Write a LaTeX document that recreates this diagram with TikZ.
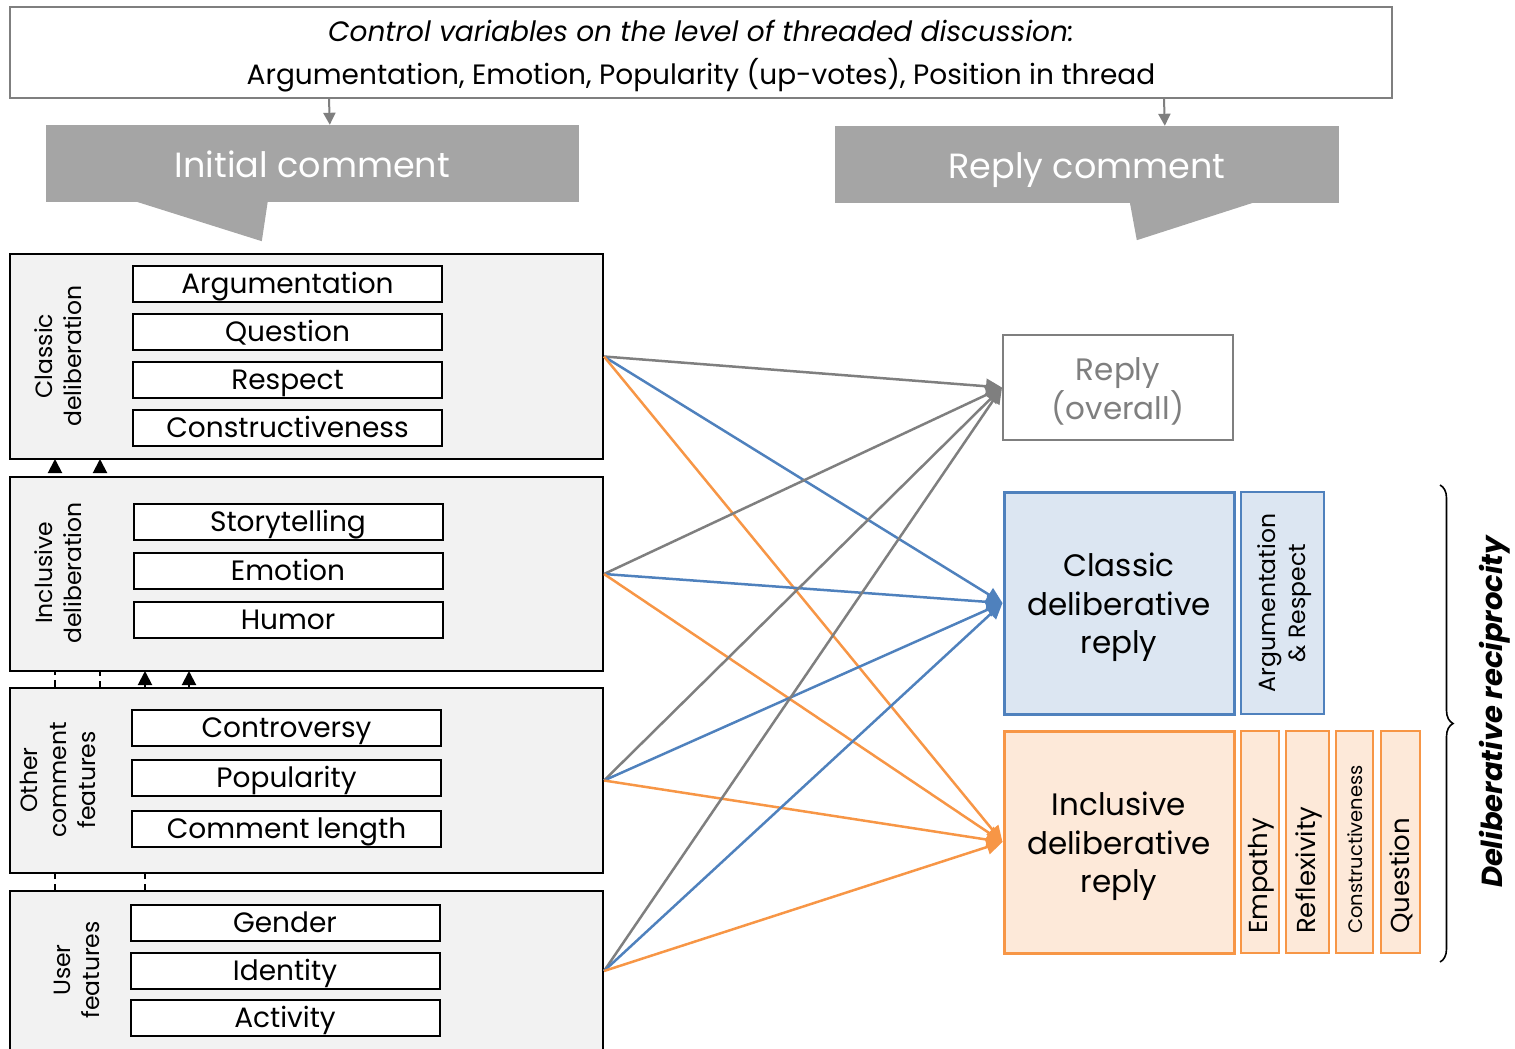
\documentclass[tikz,border=0pt]{standalone}
\usepackage{fontspec}
\setmainfont{Poppins}
\usetikzlibrary{arrows.meta,decorations.pathreplacing,calc}

\definecolor{linegray}{HTML}{7F7F7F}
\definecolor{calloutgray}{HTML}{A5A5A5}
\definecolor{panelgray}{HTML}{F2F2F2}
\definecolor{cblue}{HTML}{4F81BD}
\definecolor{cbluefill}{HTML}{DCE6F2}
\definecolor{corange}{HTML}{F79646}
\definecolor{corangefill}{HTML}{FDE9D9}

\tikzset{
  ctrlbox/.style={draw=linegray, line width=2pt, fill=white, inner sep=0pt},
  ctrltext/.style={inner sep=0pt, align=center, font=\fontsize{28}{43}\selectfont},
  callout/.style={fill=calloutgray, inner sep=0pt, text=white,
    text height=27.5pt, text depth=0pt, font=\fontsize{35}{40}\selectfont},
  ctrlarrow/.style={draw=linegray, line width=2pt,
    -{Triangle[length=12pt,width=12pt]}},
  group/.style={draw=black, line width=2pt, fill=panelgray, inner sep=0pt,
    minimum width=593pt},
  grouplabel/.style={rotate=90, align=center, inner sep=0pt,
    font=\fontsize{23.5}{29}\selectfont},
  item/.style={draw=black, line width=2pt, fill=white, inner sep=0pt,
    minimum width=309pt, minimum height=36pt, text height=20pt, text depth=1pt,
    font=\fontsize{28}{30}\selectfont},
  deparrow/.style={draw=black, line width=2pt, dash pattern=on 7pt off 5pt,
    -{Triangle[length=14pt,width=14pt]}},
  outbox/.style={inner sep=0pt, minimum width=230pt},
  outtext/.style={inner sep=0pt, align=center, font=\fontsize{31}{38.5}\selectfont},
  sidebox/.style={inner sep=0pt, minimum height=222pt},
  sidetext/.style={rotate=90, anchor=west, inner sep=0pt, align=center},
  conn/.style={line width=2.5pt, -{Triangle[length=16pt,width=15pt]}},
}

\begin{document}
\begin{tikzpicture}[x=1pt,y=-1pt]
\useasboundingbox (0,0) rectangle (1515,1049);
\clip (0,0) rectangle (1515,1049);

% control variables on top
\node[ctrlbox, minimum width=1382pt, minimum height=91pt] (ctrl) at (701,52.5) {};
\node[ctrltext] (ctrlt) at ($(ctrl.center)+(0,4)$)
  {\textit{Control variables on the level of threaded discussion:}\\
   Argumentation, Emotion, Popularity (up-votes), Position in thread};

% speech-bubble headers
\node[callout, minimum width=533pt, minimum height=77pt] (ini) at (312.5,163.5) {Initial comment};
\fill[calloutgray] ($(ini.south west)+(89,-1)$) -- ++(127,40) -- ++(6,-40) -- cycle;
\node[callout, minimum width=504pt, minimum height=77pt] (rpl) at (1087,164.5) {Reply comment};
\fill[calloutgray] ($(rpl.south west)+(295,-1)$) -- ++(7,38) -- ++(118,-38) -- cycle;

\draw[ctrlarrow] ($(ctrl.south west)+(320,0)$) -- ($(ini.north west)+(284,0)$);
\draw[ctrlarrow] ($(ctrl.south west)+(1155,0)$) -- ($(rpl.north west)+(330,0)$);

% centres and edges of the feature groups
\path (306.5,356.5) coordinate (clsc) (306.5,574) coordinate (incc)
      (306.5,780.5) coordinate (othc) (306.5,971) coordinate (usrc);
\path (10,459) coordinate (clsb) (10,671) coordinate (incb)
      (10,688) coordinate (otht) (10,891) coordinate (usrt);

% dashed dependencies between the feature groups
\draw[deparrow] ($(usrt)+(45,0)$) -- ($(clsb)+(45,0)$);
\draw[deparrow] ($(otht)+(90,0)$) -- ($(clsb)+(90,0)$);
\draw[deparrow] ($(usrt)+(135,0)$) -- ($(incb)+(135,0)$);
\draw[deparrow] ($(otht)+(179,0)$) -- ($(incb)+(179,0)$);

\node[group, minimum height=205pt] (cls) at (clsc) {};
\node[group, minimum height=194pt] (inc) at (incc) {};
\node[group, minimum height=185pt] (oth) at (othc) {};
\node[group, minimum height=160pt] (usr) at (usrc) {};

\node[grouplabel] (clsl) at (58,356) {Classic\\deliberation};
\node[grouplabel] (incl) at (58,573) {Inclusive\\deliberation};
\node[grouplabel] (othl) at (58,780) {Other\\comment\\features};
\node[grouplabel] (usrl) at (77,970) {User\\features};

% variables inside each group
\node[item] (arg) at (287.5,284) {Argumentation};
\node[item] (que) at (287.5,332) {Question};
\node[item] (res) at (287.5,379.5) {Respect};
\node[item] (con) at (287.5,427.5) {Constructiveness};

\node[item] (sto) at (288,522) {Storytelling};
\node[item] (emo) at (288,571) {Emotion};
\node[item] (hum) at (288,620) {Humor};

\node[item] (ctv) at (286.5,727.5) {Controversy};
\node[item] (pop) at (286.5,777.5) {Popularity};
\node[item] (len) at (286.5,828.5) {Comment length};

\node[item] (gen) at (285,922.5) {Gender};
\node[item] (ide) at (285,971) {Identity};
\node[item] (act) at (285,1018) {Activity};

% outcome boxes
\node[outbox, draw=linegray, line width=2pt, minimum height=105pt] (rep) at (1118,387.5) {};
\node[outtext, text=linegray] (rept) at ($(rep.center)+(0,4)$) {Reply\\(overall)};
\node[outbox, draw=cblue, line width=3pt, fill=cbluefill, minimum height=222pt]
  (crep) at (1119,603) {};
\node[outtext] (crept) at ($(crep.center)+(0,4.5)$) {Classic\\deliberative\\reply};
\node[outbox, draw=corange, line width=3pt, fill=corangefill, minimum height=222pt]
  (irep) at (1119,842) {};
\node[outtext] (irept) at ($(irep.center)+(0,4.5)$) {Inclusive\\deliberative\\reply};

\node[sidebox, draw=cblue, line width=2pt, fill=cbluefill, minimum width=83pt]
  (ars) at (1282.5,603) {};
\node[sidetext, anchor=center, font=\fontsize{23.5}{30}\selectfont] (arst)
  at ($(ars.center)+(2,0)$) {Argumentation\\\& Respect};

\node[sidebox, draw=corange, line width=2pt, fill=corangefill, minimum width=38pt]
  (emp) at (1260,842) {};
\node[sidebox, draw=corange, line width=2pt, fill=corangefill, minimum width=43pt]
  (rfx) at (1307.5,842) {};
\node[sidebox, draw=corange, line width=2pt, fill=corangefill, minimum width=37pt]
  (cns) at (1354.5,842) {};
\node[sidebox, draw=corange, line width=2pt, fill=corangefill, minimum width=39pt]
  (qst) at (1400.5,842) {};
\node[sidetext, font=\fontsize{26}{28}\selectfont] (empt) at ($(emp.south)+(1,-20)$) {Empathy};
\node[sidetext, font=\fontsize{26}{28}\selectfont] (rfxt) at ($(rfx.south)+(1,-20)$) {Reflexivity};
\node[sidetext, font=\fontsize{19.5}{20}\selectfont] (cnst) at ($(cns.south)+(1,-20)$) {Constructiveness};
\node[sidetext, font=\fontsize{26}{28}\selectfont] (qstt) at ($(qst.south)+(1,-20)$) {Question};

% brace with label
\coordinate (bt) at (1440,485);
\coordinate (bb) at (1440,962);
\draw[line width=1.6pt, decorate, decoration={brace, amplitude=13pt}] (bt) -- (bb);
\node[rotate=90, inner sep=0pt, font=\fontsize{29}{30}\selectfont\bfseries\itshape]
  (recip) at (1495,712) {Deliberative reciprocity};

% effects of the initial comment features on the reply
\foreach \src in {cls,inc,oth,usr}{
  \draw[conn, draw=linegray, fill=linegray] (\src.east) -- (rep.west);
  \draw[conn, draw=cblue, fill=cblue] (\src.east) -- (crep.west);
  \draw[conn, draw=corange, fill=corange] (\src.east) -- (irep.west);
}
\end{tikzpicture}
\end{document}
